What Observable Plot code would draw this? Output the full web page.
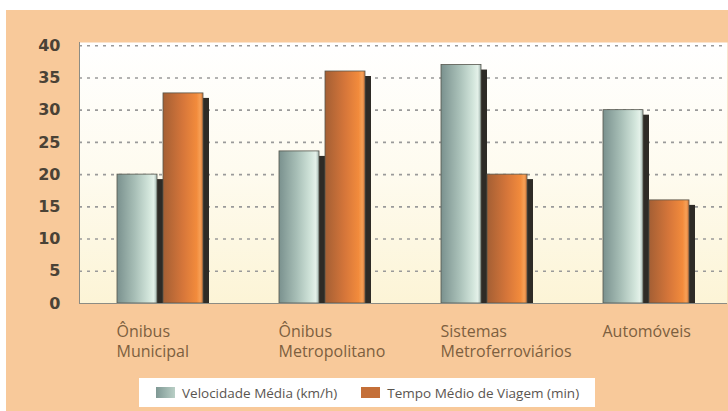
<!DOCTYPE html>
<html>
<head>
<meta charset="utf-8">
<script src="https://cdn.jsdelivr.net/npm/d3@7"></script>
<script src="https://cdn.jsdelivr.net/npm/@observablehq/plot@0.6"></script>
<style>
  html, body { margin: 0; padding: 0; background: #ffffff; }
  #wrap { position: absolute; left: 6px; top: 10px; width: 722px; height: 401px; background: #f8c99a; overflow: hidden; }
  #chart svg { display: block; }
  #legend { position: absolute; left: 133px; top: 368px; width: 456px; height: 29px; background: #ffffff;
            display: flex; align-items: center; box-sizing: border-box; padding-left: 17px;
            font-family: 'Open Sans', sans-serif; font-size: 13.5px; color: #5a5550; white-space: nowrap; }
  .sw { display: inline-block; width: 19px; height: 11px; margin-right: 7px; }
  .sw.s0 { background: linear-gradient(to right, #7e9894, #b9cfc6); }
  .sw.s1 { background: #c46f38; margin-left: 24px; }
</style>
</head>
<body>
<div id="wrap">
  <div id="chart"></div>
  <div id="legend"></div>
</div>
<script>
const categories = ["Ônibus\nMunicipal", "Ônibus\nMetropolitano", "Sistemas\nMetroferroviários", "Automóveis"];
const velocidade = [20, 23.6, 37, 30];
const tempo = [32.6, 36, 20, 16];
const yTicks = [0, 5, 10, 15, 20, 25, 30, 35, 40];
const seriesNames = ["Velocidade Média (km/h)", "Tempo Médio de Viagem (min)"];

const velData = categories.map((c, i) => ({cat: c, value: velocidade[i]}));
const tempoData = categories.map((c, i) => ({cat: c, value: tempo[i]}));

const shadow = "#2e2b26";
const svg = Plot.plot({
  width: 722,
  height: 355,
  marginLeft: 73,
  marginRight: 1,
  marginTop: 32,
  marginBottom: 62,
  style: {background: "transparent", fontFamily: "'Open Sans', sans-serif", overflow: "visible"},
  x: {domain: categories, paddingInner: 0.753, paddingOuter: 0.3765, axis: null},
  y: {domain: [0, 40.5], axis: null},
  marks: [
    Plot.frame({fill: "url(#panelGrad)", stroke: null}),
    Plot.ruleY(yTicks.filter(d => d > 0), {stroke: "#9a9a9a", strokeDasharray: "3,5", strokeWidth: 1.6}),
    Plot.frame({anchor: "left", stroke: "#8c8c84"}),
    Plot.barY(velData, {x: "cat", y: "value", dx: -17, dy: 5, fill: shadow, clip: true}),
    Plot.barY(tempoData, {x: "cat", y: "value", dx: 29, dy: 5, fill: shadow, clip: true}),
    Plot.barY(velData, {x: "cat", y: "value", dx: -23, fill: "url(#velGrad)", stroke: "#55554c", strokeWidth: 0.8}),
    Plot.barY(tempoData, {x: "cat", y: "value", dx: 23, fill: "url(#tempoGrad)", stroke: "#55554c", strokeWidth: 0.8}),
    Plot.ruleY([0], {stroke: "#8c8c84", strokeWidth: 1.2}),
    Plot.axisY({ticks: yTicks, tickSize: 0, tickPadding: 19, fontSize: 16, fontWeight: "bold",
                fontFamily: "DejaVu Sans", fill: "#4a4236", label: null}),
    Plot.axisX({tickSize: 0, tickPadding: 19, textAnchor: "start", dx: -44, fontSize: 16,
                lineHeight: 1.25, fill: "#7d5f3f", label: null})
  ]
});

const defs = d3.select(svg).insert("defs", ":first-child");
function grad(id, stops, vertical) {
  const g = defs.append("linearGradient").attr("id", id)
    .attr("x1", 0).attr("y1", 0).attr("x2", vertical ? 0 : 1).attr("y2", vertical ? 1 : 0);
  stops.forEach(([o, c]) => g.append("stop").attr("offset", o).attr("stop-color", c));
}
grad("panelGrad", [[0, "#ffffff"], [0.5, "#fefbef"], [1, "#fcf4d6"]], true);
grad("velGrad", [[0, "#7a918e"], [0.45, "#a8bfb7"], [0.8, "#d2e5db"], [0.92, "#e4f1e9"], [1, "#9fb3ad"]], false);
grad("tempoGrad", [[0, "#a45f34"], [0.5, "#d6763a"], [0.84, "#f28b3c"], [0.93, "#f7a056"], [1, "#cf7539"]], false);

document.getElementById("chart").appendChild(svg);

const legend = d3.select("#legend");
seriesNames.forEach((name, i) => {
  legend.append("span").attr("class", "sw s" + i);
  legend.append("span").text(name);
});
</script>
</body>
</html>
